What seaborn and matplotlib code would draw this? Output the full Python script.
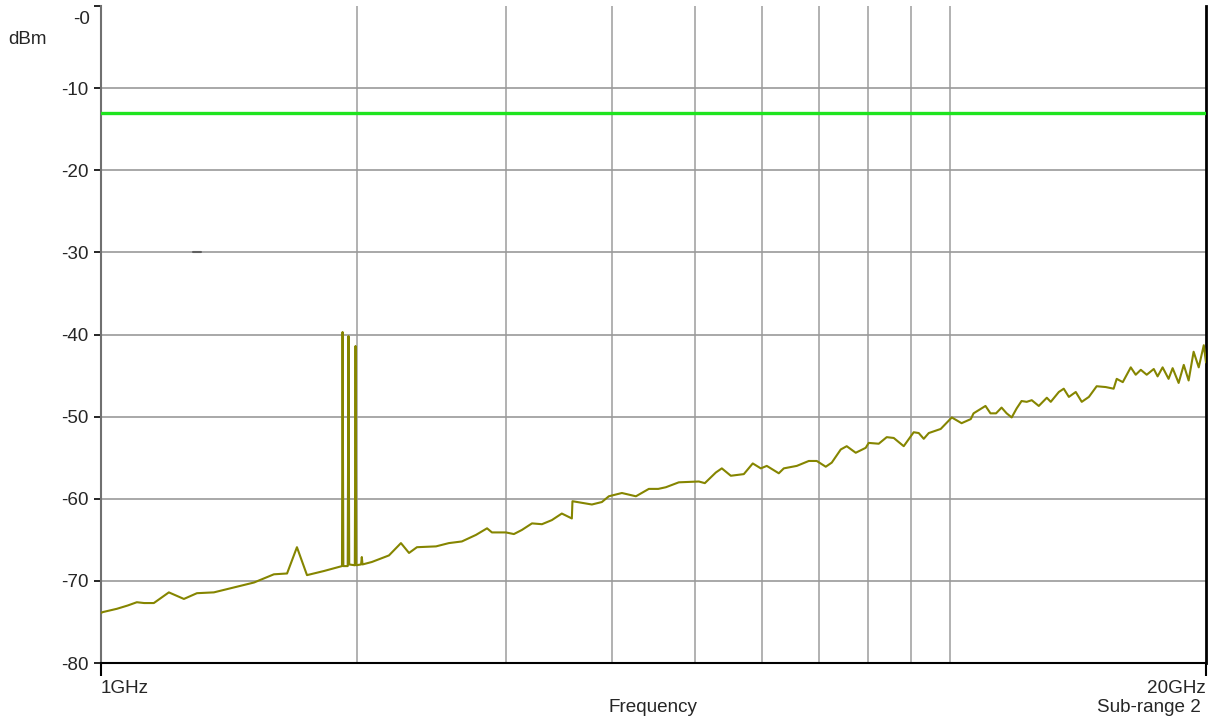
import matplotlib
matplotlib.use("Agg")
import matplotlib.pyplot as plt
import seaborn as sns
import pandas as pd

# --- data ---
freq_ghz = [
    1.000, 1.005, 1.044, 1.075, 1.102, 1.124, 1.154, 1.202, 1.252, 1.297,
    1.358, 1.434, 1.514, 1.598, 1.656, 1.701, 1.748, 1.830, 1.906,
    1.922, 1.925, 1.929, 1.952, 1.956, 1.960, 1.990, 1.994, 1.998,
    2.024, 2.028, 2.032, 2.084, 2.183, 2.255, 2.305, 2.355, 2.480, 2.568,
    2.660, 2.764, 2.848, 2.886, 2.997, 3.063, 3.130, 3.217, 3.305, 3.395,
    3.488, 3.584, 3.590, 3.784, 3.888, 3.962, 4.105, 4.264, 4.416, 4.530,
    4.624, 4.790, 5.057, 5.140, 5.296, 5.382, 5.515, 5.713, 5.853, 5.982,
    6.080, 6.281, 6.367, 6.595, 6.813, 6.962, 7.134, 7.251, 7.430, 7.551,
    7.738, 7.950, 8.015, 8.236, 8.416, 8.578, 8.813, 9.055, 9.179, 9.305,
    9.432, 9.743, 10.04, 10.31, 10.57, 10.65, 11.00, 11.15, 11.32, 11.49,
    11.65, 11.81, 11.97, 12.13, 12.30, 12.47, 12.71, 12.99, 13.13, 13.42,
    13.60, 13.79, 14.05, 14.28, 14.56, 14.87, 15.24, 15.57, 15.70, 15.96,
    16.31, 16.53, 16.76, 17.03, 17.36, 17.54, 17.78, 18.07, 18.27, 18.57,
    18.83, 19.08, 19.34, 19.61, 19.88, 20.00,
]
level_dbm = [
    -73.9, -73.8, -73.4, -73.0, -72.6, -72.7, -72.7, -71.4, -72.2, -71.5,
    -71.4, -70.8, -70.2, -69.2, -69.1, -65.9, -69.3, -68.8, -68.3,
    -68.2, -39.7, -68.2, -68.2, -40.2, -68.0, -68.1, -41.4, -68.1,
    -68.0, -67.1, -68.0, -67.7, -66.9, -65.4, -66.6, -65.9, -65.8, -65.4,
    -65.2, -64.4, -63.6, -64.1, -64.1, -64.3, -63.8, -63.0, -63.1, -62.6,
    -61.8, -62.4, -60.3, -60.7, -60.4, -59.7, -59.3, -59.7, -58.8, -58.8,
    -58.6, -58.0, -57.9, -58.1, -56.8, -56.3, -57.2, -57.0, -55.7, -56.3,
    -56.0, -56.9, -56.3, -56.0, -55.4, -55.4, -56.1, -55.6, -54.0, -53.6,
    -54.4, -53.8, -53.2, -53.3, -52.5, -52.6, -53.6, -51.9, -52.0, -52.7,
    -52.0, -51.5, -50.1, -50.8, -50.3, -49.6, -48.7, -49.6, -49.6, -48.9,
    -49.6, -50.1, -49.0, -48.1, -48.2, -48.0, -48.7, -47.7, -48.2, -47.0,
    -46.6, -47.6, -47.0, -48.2, -47.6, -46.3, -46.4, -46.6, -45.4, -45.8,
    -44.0, -44.9, -44.3, -44.9, -44.2, -45.1, -44.0, -45.4, -44.1, -45.9,
    -43.7, -45.6, -42.1, -44.0, -41.3, -43.4,
]

limit_dbm = -13
marker_freq = [1.285, 1.310]
marker_level = [-30, -30]

y_ticks = [0, -10, -20, -30, -40, -50, -60, -70, -80]
y_labels = ["", "-10", "-20", "-30", "-40", "-50", "-60", "-70", "-80"]
top_label = "-0"
grid_freqs = [2, 3, 4, 5, 6, 7, 8, 9, 10]
x_ticks = [1, 20]
x_labels = ["1GHz", "20GHz"]

FS = 13.6

sns.set_style("white")
plt.rcParams["font.family"] = ["Liberation Sans", "DejaVu Sans"]

fig = plt.figure(figsize=(12.15, 7.2), dpi=100)
ax = fig.add_axes([101 / 1215, 1 - 663 / 720, 1105 / 1215, 657 / 720])

# grid lines
for f in grid_freqs:
    ax.axvline(f, color="#a4a4a4", lw=1.2, zorder=1)
for y in y_ticks[1:-1]:
    ax.axhline(y, color="#999999", lw=1.2, zorder=1)

# limit line
ax.axhline(limit_dbm, color="#1ee41e", lw=2.4, zorder=3)

# small marker dash on the -30 line
ax.plot(marker_freq, marker_level, color="#606060", lw=1.5, zorder=2)

df = pd.DataFrame({"freq": freq_ghz, "level": level_dbm})
sns.lineplot(data=df, x="freq", y="level", ax=ax, color="#858500",
             lw=1.5, estimator=None, sort=False, zorder=4)

ax.set_xscale("log")
ax.set_xlim(1, 20)
ax.set_ylim(-80, 0)
ax.set_xticks(x_ticks)
ax.set_xticklabels(x_labels)
ax.xaxis.set_minor_locator(matplotlib.ticker.NullLocator())
ax.set_yticks(y_ticks)
ax.set_yticklabels(y_labels)
ax.set_xlabel("")
ax.set_ylabel("")

ax.tick_params(axis="y", direction="out", length=5, width=1.2, color="black",
               labelsize=FS, pad=4, left=True)
ax.tick_params(axis="x", direction="out", length=9, width=1.5, color="black",
               labelsize=FS, pad=3, bottom=True)
for lbl, ha in zip(ax.get_xticklabels(), ["left", "right"]):
    lbl.set_horizontalalignment(ha)
ax.xaxis.get_major_ticks()[0].tick1line.set_color("#707070")

ax.spines["top"].set_visible(False)
ax.spines["left"].set_color("#707070")
ax.spines["left"].set_linewidth(1.5)
ax.spines["bottom"].set_color("black")
ax.spines["bottom"].set_linewidth(1.5)
ax.spines["right"].set_color("black")
ax.spines["right"].set_linewidth(2)

# the top label sits just below its tick in the reference
fig.text(90 / 1215, 1 - 19 / 720, top_label, fontsize=FS, ha="right", va="center")
fig.text(8 / 1215, 1 - 40 / 720, "dBm", fontsize=FS, ha="left", va="center")
fig.text(653 / 1215, 1 - 707 / 720, "Frequency", fontsize=FS, ha="center", va="center")
fig.text(1201 / 1215, 1 - 707 / 720, "Sub-range 2", fontsize=FS, ha="right", va="center")

fig.savefig("out.png", dpi=100)
